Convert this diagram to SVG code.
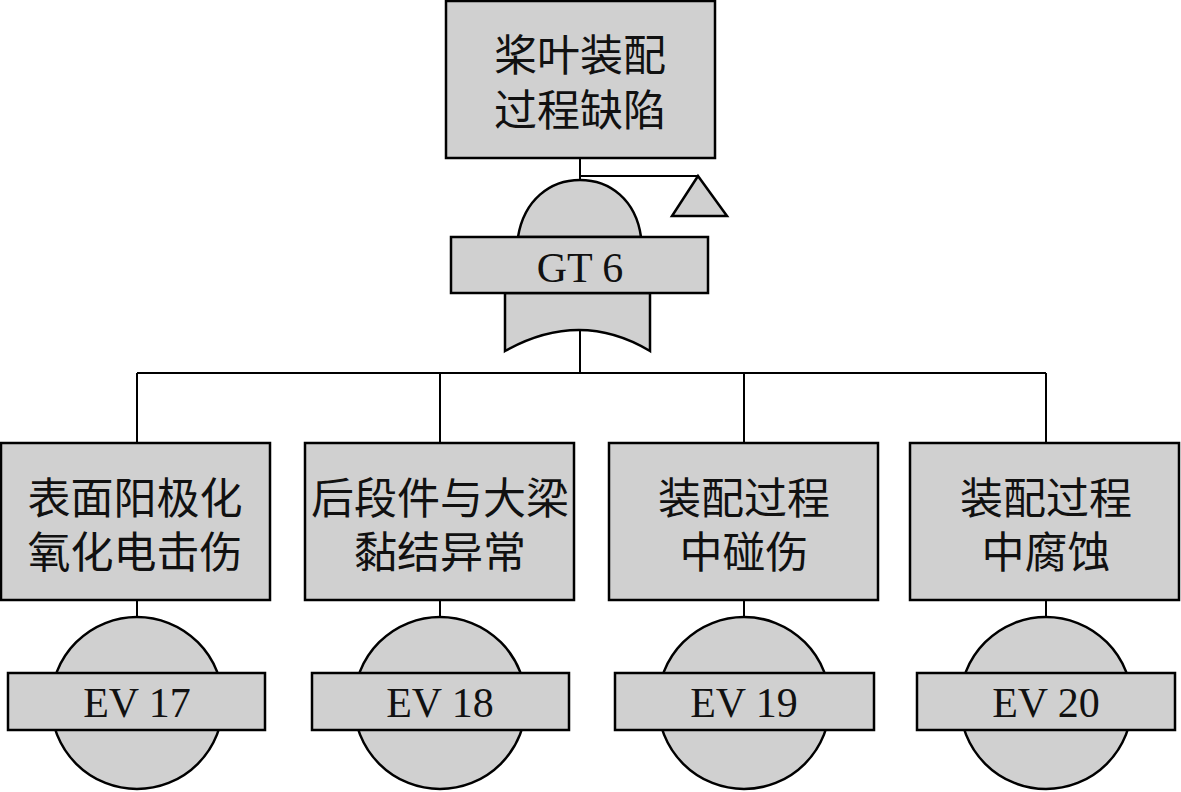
<svg xmlns="http://www.w3.org/2000/svg" width="1181" height="792" viewBox="0 0 1181 792">
<style>
.box{fill:#d0d0d0;stroke:#000;stroke-width:2.5}
.ln{fill:none;stroke:#000;stroke-width:2}
.cn{font-family:"Noto Sans CJK SC","Noto Sans CJK JP",sans-serif;font-size:43px;fill:#111;text-anchor:middle;dominant-baseline:central}
.lb{font-family:"Liberation Serif",serif;font-size:42px;fill:#111;text-anchor:middle}
</style>
<rect width="1181" height="792" fill="#fff"/>
<g id="connectors">
<line class="ln" x1="580" y1="158" x2="580" y2="181"/>
<line class="ln" x1="580" y1="176" x2="698" y2="176"/>
<line class="ln" x1="580" y1="330" x2="580" y2="373"/>
<line class="ln" x1="137" y1="373" x2="1046" y2="373"/>
<line class="ln" x1="137" y1="373" x2="137" y2="443"/>
<line class="ln" x1="440" y1="373" x2="440" y2="443"/>
<line class="ln" x1="744" y1="373" x2="744" y2="443"/>
<line class="ln" x1="1046" y1="373" x2="1046" y2="443"/>
<line class="ln" x1="137" y1="600" x2="137" y2="617"/>
<line class="ln" x1="440" y1="600" x2="440" y2="617"/>
<line class="ln" x1="744" y1="600" x2="744" y2="617"/>
<line class="ln" x1="1046" y1="600" x2="1046" y2="617"/>
</g>
<g id="top">
<rect class="box" x="446" y="1" width="269" height="157"/>
<text class="cn" x="580" y="52">桨叶装配</text>
<text class="cn" x="580" y="107">过程缺陷</text>
</g>
<g id="transfer">
<polygon class="box" points="698,176 672,216 727,216"/>
</g>
<g id="gt6">
<path class="box" d="M518,237 C524,200 550,180 580,180 C610,180 636,200 641,237 Z"/>
<path class="box" d="M505,293 L505,351 Q580,309 650,351 L650,293 Z"/>
<rect class="box" x="451" y="237" width="257" height="56"/>
<text class="lb" x="580" y="282">GT 6</text>
</g>
<g id="b1">
<rect class="box" x="1" y="443" width="269" height="157"/>
<text class="cn" x="135" y="495">表面阳极化</text>
<text class="cn" x="135" y="549">氧化电击伤</text>
</g>
<g id="b2">
<rect class="box" x="305" y="443" width="269" height="157"/>
<text class="cn" x="440" y="495">后段件与大梁</text>
<text class="cn" x="440" y="549">黏结异常</text>
</g>
<g id="b3">
<rect class="box" x="609" y="443" width="269" height="157"/>
<text class="cn" x="744" y="495">装配过程</text>
<text class="cn" x="744" y="549">中碰伤</text>
</g>
<g id="b4">
<rect class="box" x="910" y="443" width="269" height="157"/>
<text class="cn" x="1046" y="495">装配过程</text>
<text class="cn" x="1046" y="549">中腐蚀</text>
</g>
<g id="ev17">
<circle class="box" cx="137" cy="703" r="86"/>
<rect class="box" x="8" y="673" width="257" height="57"/>
<text class="lb" x="137" y="717">EV 17</text>
</g>
<g id="ev18">
<circle class="box" cx="440" cy="703" r="86"/>
<rect class="box" x="312" y="673" width="257" height="57"/>
<text class="lb" x="440" y="717">EV 18</text>
</g>
<g id="ev19">
<circle class="box" cx="744" cy="703" r="86"/>
<rect class="box" x="615" y="673" width="259" height="57"/>
<text class="lb" x="744" y="717">EV 19</text>
</g>
<g id="ev20">
<circle class="box" cx="1046" cy="703" r="86"/>
<rect class="box" x="917" y="673" width="258" height="57"/>
<text class="lb" x="1046" y="717">EV 20</text>
</g>
</svg>
